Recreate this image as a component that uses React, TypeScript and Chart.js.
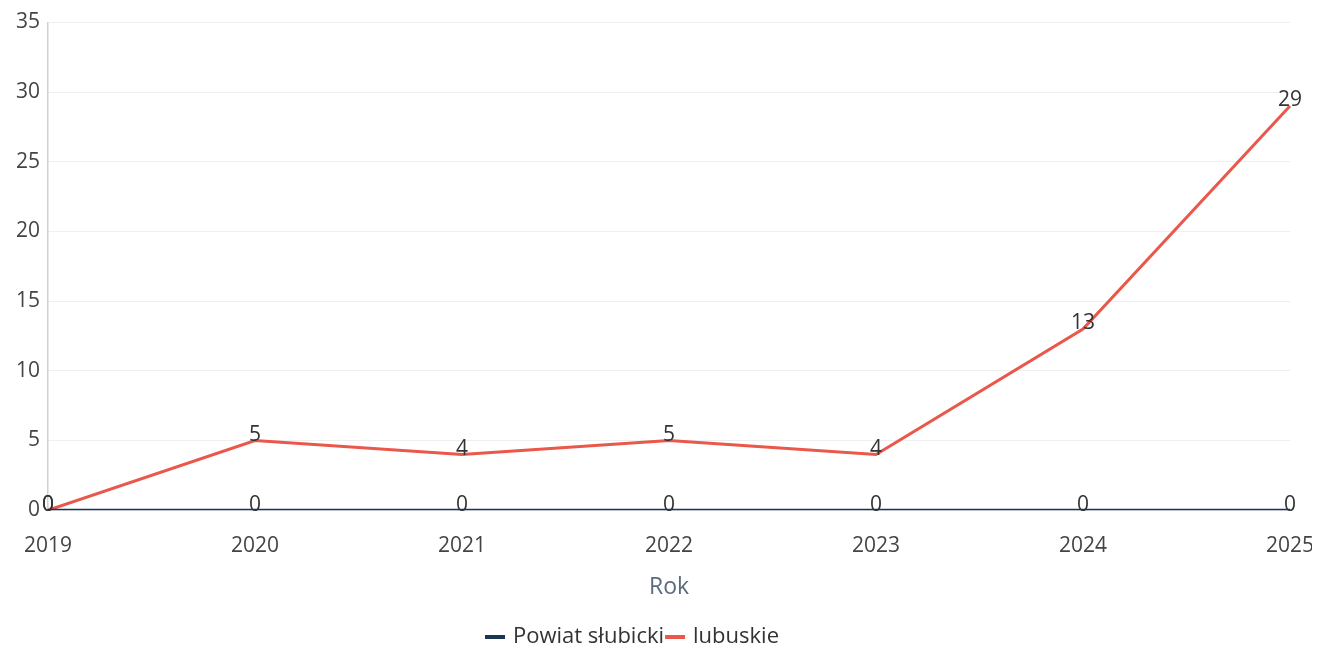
import React, { useEffect, useRef } from "react";
import { Chart, registerables } from "chart.js";

Chart.register(...registerables);

const years = ["2019", "2020", "2021", "2022", "2023", "2024", "2025"];
const powiatSlubicki = [0, 0, 0, 0, 0, 0, 0];
const lubuskie = [0, 5, 4, 5, 4, 13, 29];
const yTicksMax = 35;
const yTicksStep = 5;

const FONT = "'Open Sans', 'Noto Sans', sans-serif";

const dataLabels = {
  id: "dataLabels",
  afterDatasetsDraw(chart: any) {
    const ctx = chart.ctx;
    ctx.save();
    ctx.font = `21px ${FONT}`;
    ctx.fillStyle = "#333333";
    ctx.textAlign = "center";
    ctx.textBaseline = "bottom";
    chart.data.datasets.forEach((ds: any, i: number) => {
      const meta = chart.getDatasetMeta(i);
      meta.data.forEach((pt: any, j: number) => {
        ctx.fillText(String(Math.round(ds.data[j])), pt.x, pt.y + 5);
      });
    });
    ctx.restore();
  },
};

// legend drawn manually (the original sits slightly left of centre)
const bottomLegend = {
  id: "bottomLegend",
  afterDraw(chart: any) {
    const ctx = chart.ctx;
    ctx.save();
    ctx.font = `22px ${FONT}`;
    ctx.textBaseline = "middle";
    ctx.textAlign = "left";
    const sw = 20;
    const gapText = 8;
    const gapItem = 1;
    const items = chart.data.datasets.map((ds: any) => ({
      text: ds.label,
      color: ds.borderColor,
      w: ctx.measureText(ds.label).width,
    }));
    let total = 0;
    items.forEach((it: any, i: number) => {
      total += sw + gapText + it.w + (i < items.length - 1 ? gapItem : 0);
    });
    let x = chart.width / 2 - 30 - total / 2;
    const y = chart.height - 11;
    items.forEach((it: any) => {
      ctx.fillStyle = it.color;
      ctx.fillRect(x, y - 2, sw, 4);
      x += sw + gapText;
      ctx.fillStyle = "#333333";
      ctx.fillText(it.text, x, y);
      x += it.w + gapItem;
    });
    ctx.restore();
  },
};

export default function App() {
  const ref = useRef<HTMLCanvasElement | null>(null);
  useEffect(() => {
    if (!ref.current) return;
    const chart = new Chart(ref.current, {
      type: "line",
      data: {
        labels: years,
        datasets: [
          {
            label: "Powiat słubicki",
            data: powiatSlubicki,
            borderColor: "#1c3557",
            backgroundColor: "#1c3557",
            borderWidth: 3,
            pointRadius: 0,
            tension: 0,
          },
          {
            label: "lubuskie",
            data: lubuskie,
            borderColor: "#ea574b",
            backgroundColor: "#ea574b",
            borderWidth: 3,
            pointRadius: 0,
            tension: 0,
          },
        ],
      },
      options: {
        animation: false,
        responsive: true,
        maintainAspectRatio: false,
        layout: { padding: { top: 8, right: 0, left: 0, bottom: 47 } },
        plugins: {
          tooltip: { enabled: false },
          legend: { display: false },
        },
        scales: {
          x: {
            grid: {
              display: true,
              drawOnChartArea: false,
              drawTicks: true,
              tickLength: 21,
              color: "rgba(0,0,0,0)",
            },
            border: { display: false },
            offset: false,
            ticks: {
              font: { family: FONT, size: 21 },
              color: "#444444",
              padding: 2,
              maxRotation: 0,
            },
            title: {
              display: true,
              text: "Rok",
              font: { family: FONT, size: 23 },
              color: "#5b6b7d",
              padding: { top: 13, bottom: 0 },
            },
          },
          y: {
            min: 0,
            max: yTicksMax,
            ticks: {
              stepSize: yTicksStep,
              font: { family: FONT, size: 21, lineHeight: 0.6 },
              color: "#444444",
              padding: 8,
            },
            grid: { color: "#efefef", drawTicks: false },
            border: { display: true, color: "#c9d2d4", width: 1.5 },
          },
        },
      },
      plugins: [dataLabels, bottomLegend],
    });
    return () => chart.destroy();
  }, []);
  return (
    <div style={{ width: 1308, height: 640, position: "relative" }}>
      <canvas ref={ref} />
    </div>
  );
}
